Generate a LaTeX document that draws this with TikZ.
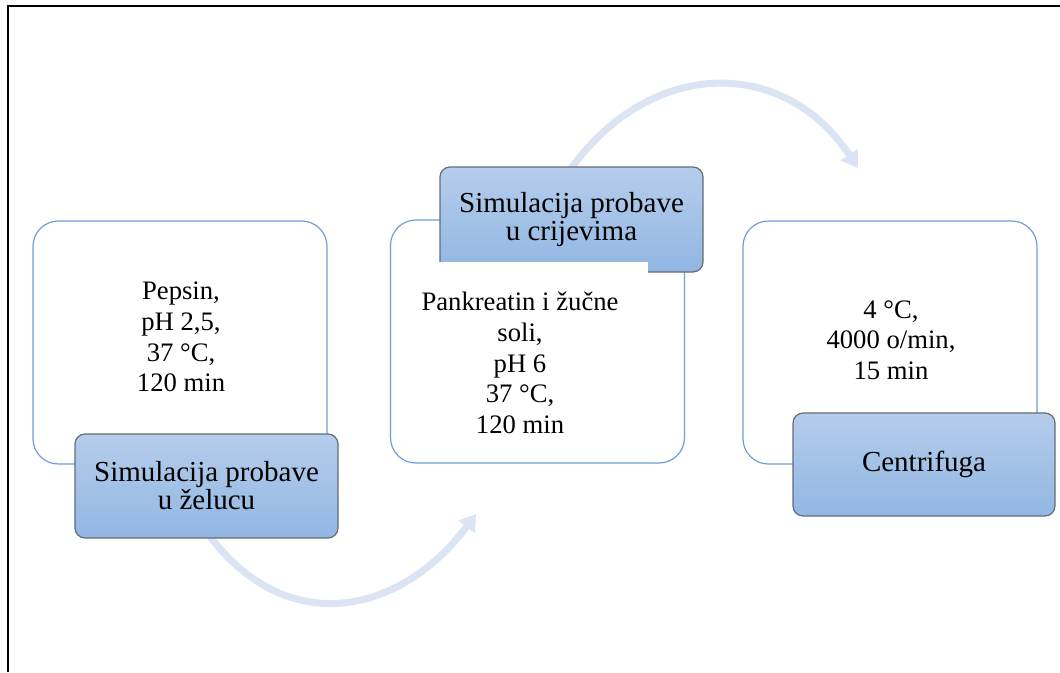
\documentclass[tikz,border=0pt]{standalone}
\usepackage{fontspec}
\setmainfont{Liberation Serif}
\usetikzlibrary{arrows.meta}
\definecolor{boxline}{RGB}{112,158,218}
\definecolor{labtop}{RGB}{181,205,235}
\definecolor{labbot}{RGB}{146,182,227}
\definecolor{labline}{RGB}{100,108,120}
\definecolor{arrowc}{RGB}{218,228,243}
\begin{document}
\begin{tikzpicture}[x=0.75pt,y=-0.75pt,
  contentbox/.style={draw=boxline, line width=0.9pt, rounded corners=19pt, fill=white,
    minimum width=220.5pt, minimum height=182.25pt, inner sep=0pt, outer sep=0pt},
  labelbox/.style={draw=labline, line width=0.9pt, rounded corners=7.5pt,
    top color=labtop, bottom color=labbot, minimum width=197.25pt, minimum height=78pt,
    inner sep=0pt, outer sep=0pt, align=center, font=\fontsize{21.75}{21}\selectfont},
  bodytext/.style={align=center, font=\fontsize{20}{23}\selectfont, inner sep=0pt},
  flowarrow/.style={draw=arrowc, line width=5.25pt, -{Triangle[length=12pt,width=15pt]}}
]
\useasboundingbox (0,0) rectangle (1060,672);
\fill[white] (0,0) rectangle (1060,672);
% frame
\coordinate (fbl) at (8,672);
\coordinate (ftl) at (8,6);
\coordinate (ftr) at (1060,6);
\draw[line width=1.5pt] (fbl) -- (ftl) -- (ftr);

% content boxes
\node[contentbox] (box1) at (180,342.5) {};
\node[contentbox] (box2) at (537.5,341.5) {};
\node[contentbox] (box3) at (890,342.5) {};

% texts
\node[bodytext] (t1) at (181,337) {Pepsin,\\pH 2,5,\\37 °C,\\120 min};
\node[bodytext] (t2) at (520,363) {Pankreatin i žučne\\soli,\\pH 6\\37 °C,\\120 min};
\node[bodytext] (t3) at (891,340) {4 °C,\\4000 o/min,\\15 min};

% arrows
\coordinate (a1s) at (206,531);
\coordinate (a1e) at (476,514);
\draw[flowarrow] (a1s) .. controls (284,640) and (400,616) .. (a1e);
\coordinate (a2s) at (566,176);
\coordinate (a2e) at (858,168);
\draw[flowarrow] (a2s) .. controls (643,60) and (781,52) .. (a2e);

% labels
\node[labelbox] (lab1) at (206.5,486) {Simulacija probave\\u želucu};
\node[labelbox, minimum height=78.75pt] (lab2) at (571.5,219.5) {Simulacija probave\\u crijevima};
\node[labelbox, minimum width=196.5pt, minimum height=77.25pt] (lab3) at (924,464.5) {Centrifuga};

% white overlap of middle panel over its label
\fill[white] (439,262) rectangle (648,274.5);
\end{tikzpicture}
\end{document}
